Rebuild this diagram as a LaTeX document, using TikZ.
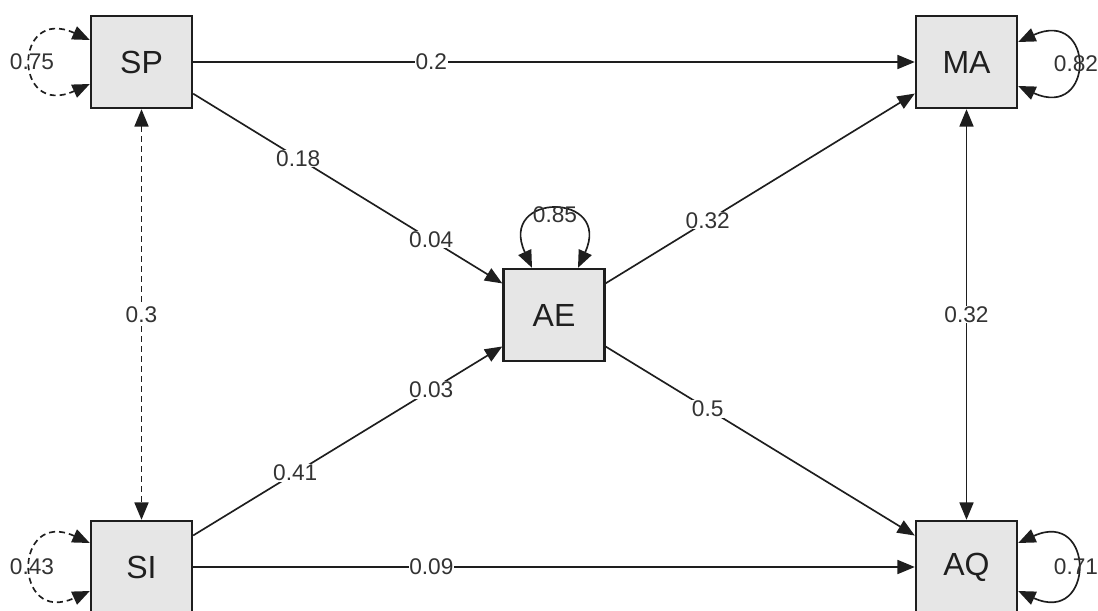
\documentclass[tikz,border=0pt]{standalone}
\usepackage{fontspec}
\setmainfont{Liberation Sans}
\usetikzlibrary{arrows.meta,calc}

\definecolor{boxfill}{RGB}{230,230,230}
\definecolor{inkgrey}{RGB}{30,30,30}

\begin{document}
\begin{tikzpicture}[x=0.75pt,y=0.75pt,yscale=-1,xscale=1,
    var/.style={draw=inkgrey,fill=boxfill,line width=1.8pt,minimum width=75.75pt,minimum height=69pt,inner sep=0pt,font=\fontsize{24}{28}\selectfont,text=black!88},
    reg/.style={draw=inkgrey,line width=1.25pt,-{Triangle[length=13pt,width=10.5pt]}},
    cov/.style={reg,{Triangle[length=13pt,width=10.5pt]}-{Triangle[length=13pt,width=10.5pt]}},
    covdash/.style={cov,dash pattern=on 4.5pt off 3pt},
    wt/.style={fill=white,inner sep=0.5pt,font=\fontsize{17}{20}\selectfont,text=black!80},
    loopwt/.style={inner sep=0pt,font=\fontsize{17}{20}\selectfont,text=black!80}
  ]
  \useasboundingbox (0,0) rectangle (1098,610);
  \clip (0,0) rectangle (1098,610);
  %Variables
  \node[var] (SP) at (141.5,62) {SP};
  \node[var] (MA) at (966.5,62) {MA};
  \node[var] (AE) at (554,315) {AE};
  \node[var] (SI) at (141.5,567) {SI};
  \node[var] (AQ) at (966.5,567) {AQ};
  %Regressions
  \draw[reg] (SP) -- node[wt,pos=0.33] {0.2} (MA);
  \draw[reg] (SP) -- node[wt,pos=0.34] {0.18} node[wt,pos=0.77] {0.04} (AE);
  \draw[reg] (SI) -- node[wt,pos=0.33] {0.41} node[wt,pos=0.77] {0.03} (AE);
  \draw[reg] (AE) -- node[wt,pos=0.33] {0.32} (MA);
  \draw[reg] (AE) -- node[wt,pos=0.33] {0.5} (AQ);
  \draw[reg] (SI) -- node[wt,pos=0.33] {0.09} (AQ);
  %Covariances
  \draw[cov] (MA) -- node[wt] {0.32} (AQ);
  \draw[covdash] (SP) -- node[wt] {0.3} (SI);
  %Residual variances
  \draw[covdash] ($(SP.west)+(0,-22)$) .. controls +(-77,-35) and +(-77,35) .. ($(SP.west)+(0,22)$) node[loopwt,pos=0.5] {0.75};
  \draw[covdash] ($(SI.west)+(0,-24)$) .. controls +(-77,-35) and +(-77,35) .. ($(SI.west)+(0,24)$) node[loopwt,pos=0.5] {0.43};
  \draw[cov] ($(MA.east)+(0,-20)$) .. controls +(77,-35) and +(77,35) .. ($(MA.east)+(0,24)$) node[loopwt,pos=0.5] {0.82};
  \draw[cov] ($(AQ.east)+(0,-24)$) .. controls +(77,-35) and +(77,35) .. ($(AQ.east)+(0,24)$) node[loopwt,pos=0.5] {0.71};
  \draw[cov] ($(AE.north)+(-22,0)$) .. controls +(-35,-76) and +(35,-76) .. ($(AE.north)+(24,0)$) node[loopwt,pos=0.5,yshift=-3pt] {0.85};
\end{tikzpicture}
\end{document}
